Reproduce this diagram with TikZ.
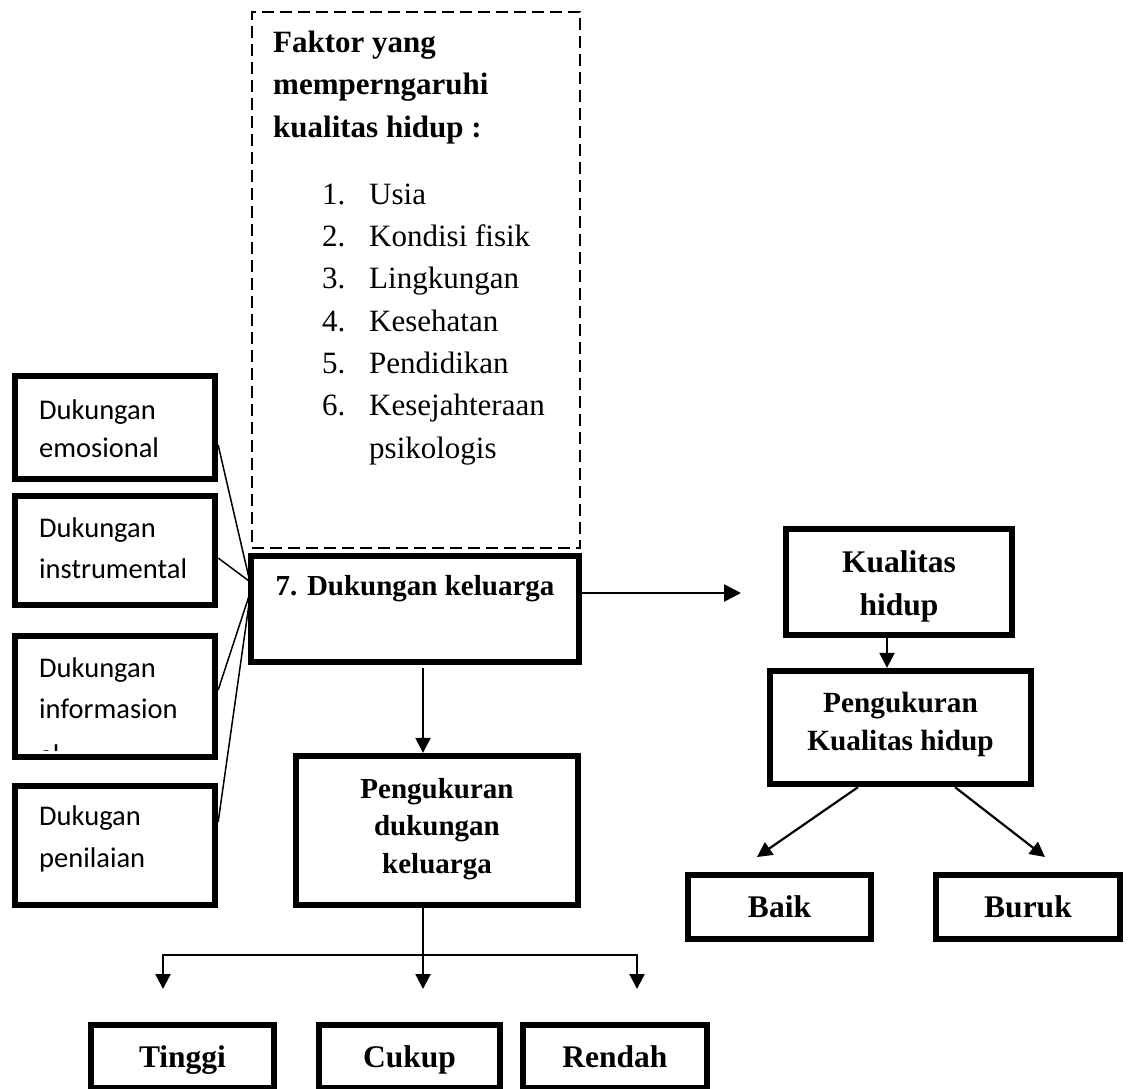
\documentclass[tikz,border=0pt]{standalone}
\usepackage{fontspec}
\setmainfont{Liberation Serif}
\newfontfamily\carl{Carlito}
\usetikzlibrary{arrows.meta,calc}
\begin{document}
\begin{tikzpicture}[x=1pt,y=-1pt,
  box/.style={draw=black,line width=5.8pt,inner sep=0pt,rectangle},
  dbox/.style={draw=black,line width=2.8pt,dash pattern=on 12pt off 6pt,inner sep=0pt,rectangle},
  mtxt/.style={inner sep=0pt,align=center,anchor=north},
  stxt/.style={inner sep=0pt,anchor=base,font=\fontsize{29}{34}\selectfont\bfseries},
  btxt/.style={inner sep=0pt,anchor=base,font=\fontsize{31.5}{36}\selectfont\bfseries},
  ltxt/.style={inner sep=0pt,align=left,anchor=north west},
  arr/.style={-{Triangle[length=15pt,width=15pt]},line width=2.2pt},
  bigarr/.style={-{Triangle[length=17pt,width=17pt]},line width=2.5pt},
  conn/.style={line width=2pt},
  thinln/.style={line width=1.5pt}
]
\useasboundingbox (0,0) rectangle (1130,1088);

% dashed factor box
\node[dbox,minimum width=328pt,minimum height=536pt] (factors) at (416,280) {};
\node[ltxt,font=\fontsize{31}{42.5}\selectfont\bfseries] (factt) at (273,26)
  {\rule{0pt}{26pt}Faktor yang\\memperngaruhi\\kualitas hidup :};
\node[ltxt,font=\fontsize{31}{42.3}\selectfont] (facl) at (322,178)
  {\rule{0pt}{26pt}\makebox[47pt][l]{1.}Usia\\
   \makebox[47pt][l]{2.}Kondisi fisik\\
   \makebox[47pt][l]{3.}Lingkungan\\
   \makebox[47pt][l]{4.}Kesehatan\\
   \makebox[47pt][l]{5.}Pendidikan\\
   \makebox[47pt][l]{6.}Kesejahteraan\\
   \makebox[47pt][l]{}psikologis};

% left boxes
\node[box,minimum width=200.5pt,minimum height=103.5pt] (b1) at (115,427.5) {};
\node[box,minimum width=200.5pt,minimum height=109.5pt] (b2) at (115,550.5) {};
\node[box,minimum width=200.5pt,minimum height=121.5pt] (b3) at (115,696.5) {};
\node[box,minimum width=200.5pt,minimum height=119.5pt] (b4) at (115,845.5) {};
\node[ltxt,font=\carl\fontsize{28.5}{38}\selectfont] (t1) at (39,395) {\rule{0pt}{24pt}Dukungan\\emosional};
\node[ltxt,font=\carl\fontsize{28.5}{41}\selectfont] (t2) at (39,513) {\rule{0pt}{24pt}Dukungan\\instrumental};
\begin{scope}
  \clip (18,639) rectangle (212,750);
  \node[ltxt,font=\carl\fontsize{28.5}{41}\selectfont] (t3) at (39,653) {\rule{0pt}{24pt}Dukungan\\informasion\\[5pt]al};
\end{scope}
\node[ltxt,font=\carl\fontsize{28.5}{42}\selectfont] (t4) at (39,801) {\rule{0pt}{24pt}Dukugan\\penilaian};

% main boxes
\node[box,minimum width=328.5pt,minimum height=106.5pt] (dk) at (415,609) {};
\node[stxt] (dkt) at (415,595) {7. Dukungan keluarga};

\node[box,minimum width=282.5pt,minimum height=149.5pt] (pmd) at (437,830.5) {};
\node[mtxt,font=\fontsize{29}{37.5}\selectfont\bfseries] (pmdt) at (437,772) {\rule{0pt}{26pt}Pengukuran\\dukungan\\keluarga};

\node[box,minimum width=226.5pt,minimum height=106.5pt] (kh) at (899,582) {};
\node[mtxt,font=\fontsize{31.5}{43}\selectfont\bfseries] (kht) at (899,546) {\rule{0pt}{26pt}Kualitas\\hidup};

\node[box,minimum width=261.5pt,minimum height=113.5pt] (pkh) at (900.5,727.5) {};
\node[mtxt,font=\fontsize{29.3}{38}\selectfont\bfseries] (pkht) at (900.5,686) {\rule{0pt}{26pt}Pengukuran\\Kualitas hidup};

\node[box,minimum width=183.5pt,minimum height=64.5pt] (baik) at (779.5,907) {};
\node[btxt] (baikt) at (779.5,917) {Baik};
\node[box,minimum width=184.5pt,minimum height=64.5pt] (buruk) at (1028,907) {};
\node[btxt] (burukt) at (1028,917) {Buruk};

\node[box,minimum width=183.5pt,minimum height=63.5pt] (tinggi) at (182.5,1056.5) {};
\node[btxt] (tinggit) at (182.5,1067) {Tinggi};
\node[box,minimum width=181.5pt,minimum height=63.5pt] (cukup) at (409.5,1056.5) {};
\node[btxt] (cukupt) at (409.5,1067) {Cukup};
\node[box,minimum width=184.5pt,minimum height=63.5pt] (rendah) at (615,1056.5) {};
\node[btxt] (rendaht) at (615,1067) {Rendah};

% coordinates for free ends
\coordinate (h1) at (249,578);
\coordinate (h2) at (249,581);
\coordinate (h3) at (250,593);
\coordinate (h4) at (250,597);
\coordinate (kin) at (741,593);
\coordinate (baikin) at (757,857);
\coordinate (burukin) at (1045,857);
\coordinate (fork) at (423,955);
\coordinate (tL) at (163,989);
\coordinate (tC) at (423,989);
\coordinate (tR) at (637,989);

% left connectors
\draw[thinln] ([yshift=-17.5pt]b1.east) -- (h1);
\draw[thinln] ([yshift=-7.5pt]b2.east) -- (h2);
\draw[thinln] ([yshift=6.5pt]b3.east) -- (h3);
\draw[thinln] ([yshift=23.5pt]b4.east) -- (h4);

% arrows
\draw[bigarr] ([yshift=16pt]dk.east) -- (kin);
\draw[arr] ([xshift=8pt,yshift=-3pt]dk.south) -- ([xshift=-14pt]pmd.north);
\draw[arr] ([xshift=-12pt]kh.south) -- ([xshift=-13.5pt]pkh.north);
\draw[arr] ([xshift=-42.5pt]pkh.south) -- (baikin);
\draw[arr] ([xshift=54.5pt]pkh.south) -- (burukin);
\draw[conn] ([xshift=-14pt]pmd.south) -- (fork);
\draw[arr] (fork) -| (tL);
\draw[arr] (fork) -- (tC);
\draw[arr] (fork) -| (tR);
\end{tikzpicture}
\end{document}
